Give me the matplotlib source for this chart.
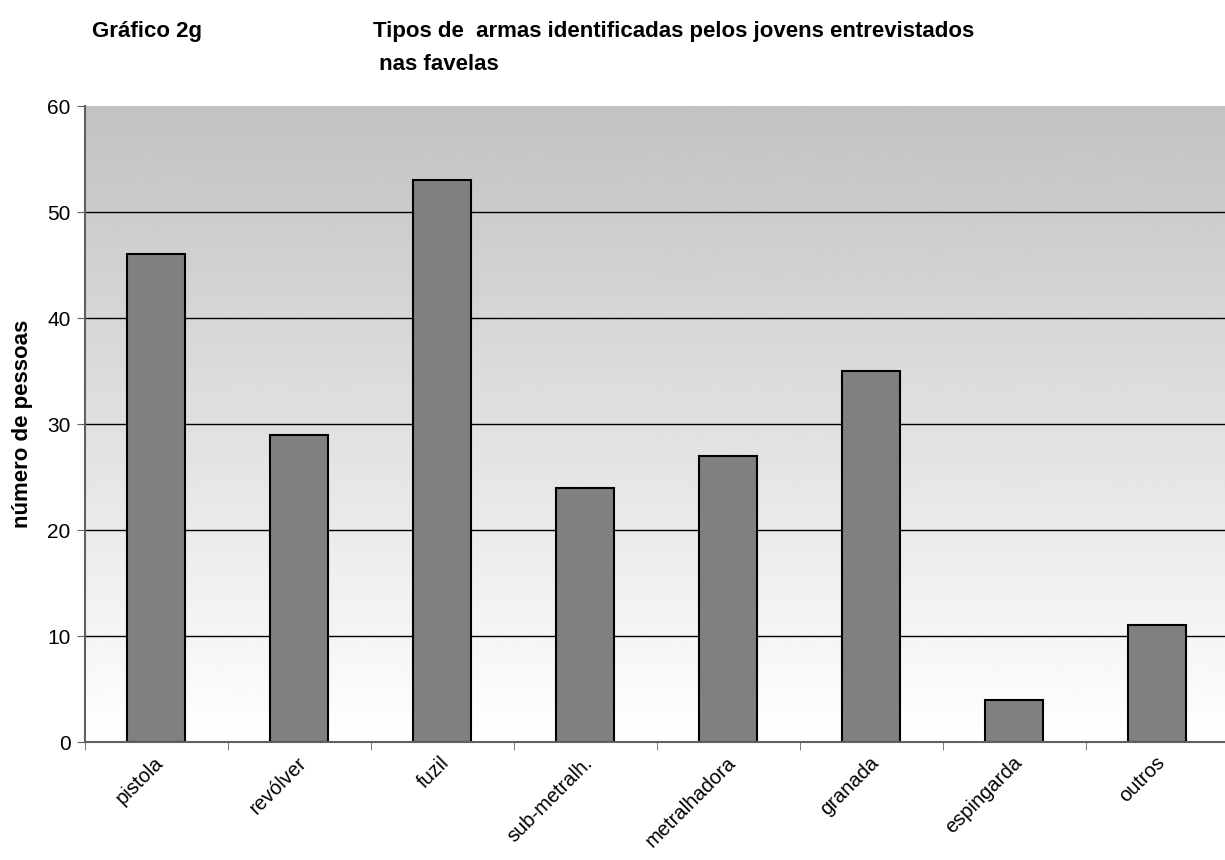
import matplotlib.pyplot as plt
import matplotlib.transforms as mtransforms
import numpy as np

plt.rcParams['font.family'] = ['Liberation Sans', 'DejaVu Sans']

categorias = ["pistola", "revólver", "fuzil", "sub-metralh.", "metralhadora",
              "granada", "espingarda", "outros"]
pessoas = [46, 29, 53, 24, 27, 35, 4, 11]
yticks = [0, 10, 20, 30, 40, 50, 60]


def plot_armas():
    fig = plt.figure(figsize=(12.25, 8.6), dpi=100)
    ax = fig.add_axes([84.5 / 1225, 1 - 742 / 860, 1144 / 1225, 636 / 860])

    x = np.arange(len(categorias))

    # fundo em degradê cinza (topo) -> branco (base)
    grad = np.linspace(0.76, 1.0, 256).reshape(-1, 1)
    ax.imshow(grad, cmap="gray", vmin=0, vmax=1, aspect="auto",
              extent=[-0.5, len(categorias) - 0.5, 0, 60], zorder=0,
              origin="upper")

    for v in yticks[1:-1]:
        ax.axhline(v, color="k", lw=1, zorder=1)

    ax.bar(x, pessoas, width=0.41, color="#808080", edgecolor="k",
           lw=1.5, zorder=2)

    ax.set_xlim(-0.5, len(categorias) - 0.5)
    ax.set_ylim(0, 60)
    ax.set_yticks(yticks)
    ax.tick_params(axis="y", labelsize=15, length=6, color="#606060",
                   direction="out", pad=4)

    ax.set_xticks(x)
    ax.set_xticklabels(categorias, rotation=45, ha="right",
                       rotation_mode="anchor", fontsize=14.5)
    ax.tick_params(axis="x", length=0, pad=8)
    shift = mtransforms.ScaledTranslation(-2 / 100, 0, fig.dpi_scale_trans)
    for lab in ax.get_xticklabels():
        lab.set_transform(lab.get_transform() + shift)
    ax.set_xticks(np.arange(-0.5, len(categorias) + 0.5, 1), minor=True)
    ax.tick_params(axis="x", which="minor", length=6, color="#606060")

    for side in ["top", "right"]:
        ax.spines[side].set_visible(False)
    for side in ["left", "bottom"]:
        ax.spines[side].set_color("#606060")
        ax.spines[side].set_linewidth(1.5)

    ax.set_ylabel("número de pessoas", fontsize=16, fontweight="bold",
                  labelpad=10)

    fig.text(92 / 1225, 1 - 31 / 860, "Gráfico 2g", fontsize=16,
             fontweight="bold", va="center")
    fig.text(373 / 1225, 1 - 31 / 860,
             "Tipos de  armas identificadas pelos jovens entrevistados",
             fontsize=16, fontweight="bold", va="center")
    fig.text(373 / 1225, 1 - 64 / 860, " nas favelas", fontsize=16,
             fontweight="bold", va="center")

    fig.savefig("out.png", dpi=100)


plot_armas()
